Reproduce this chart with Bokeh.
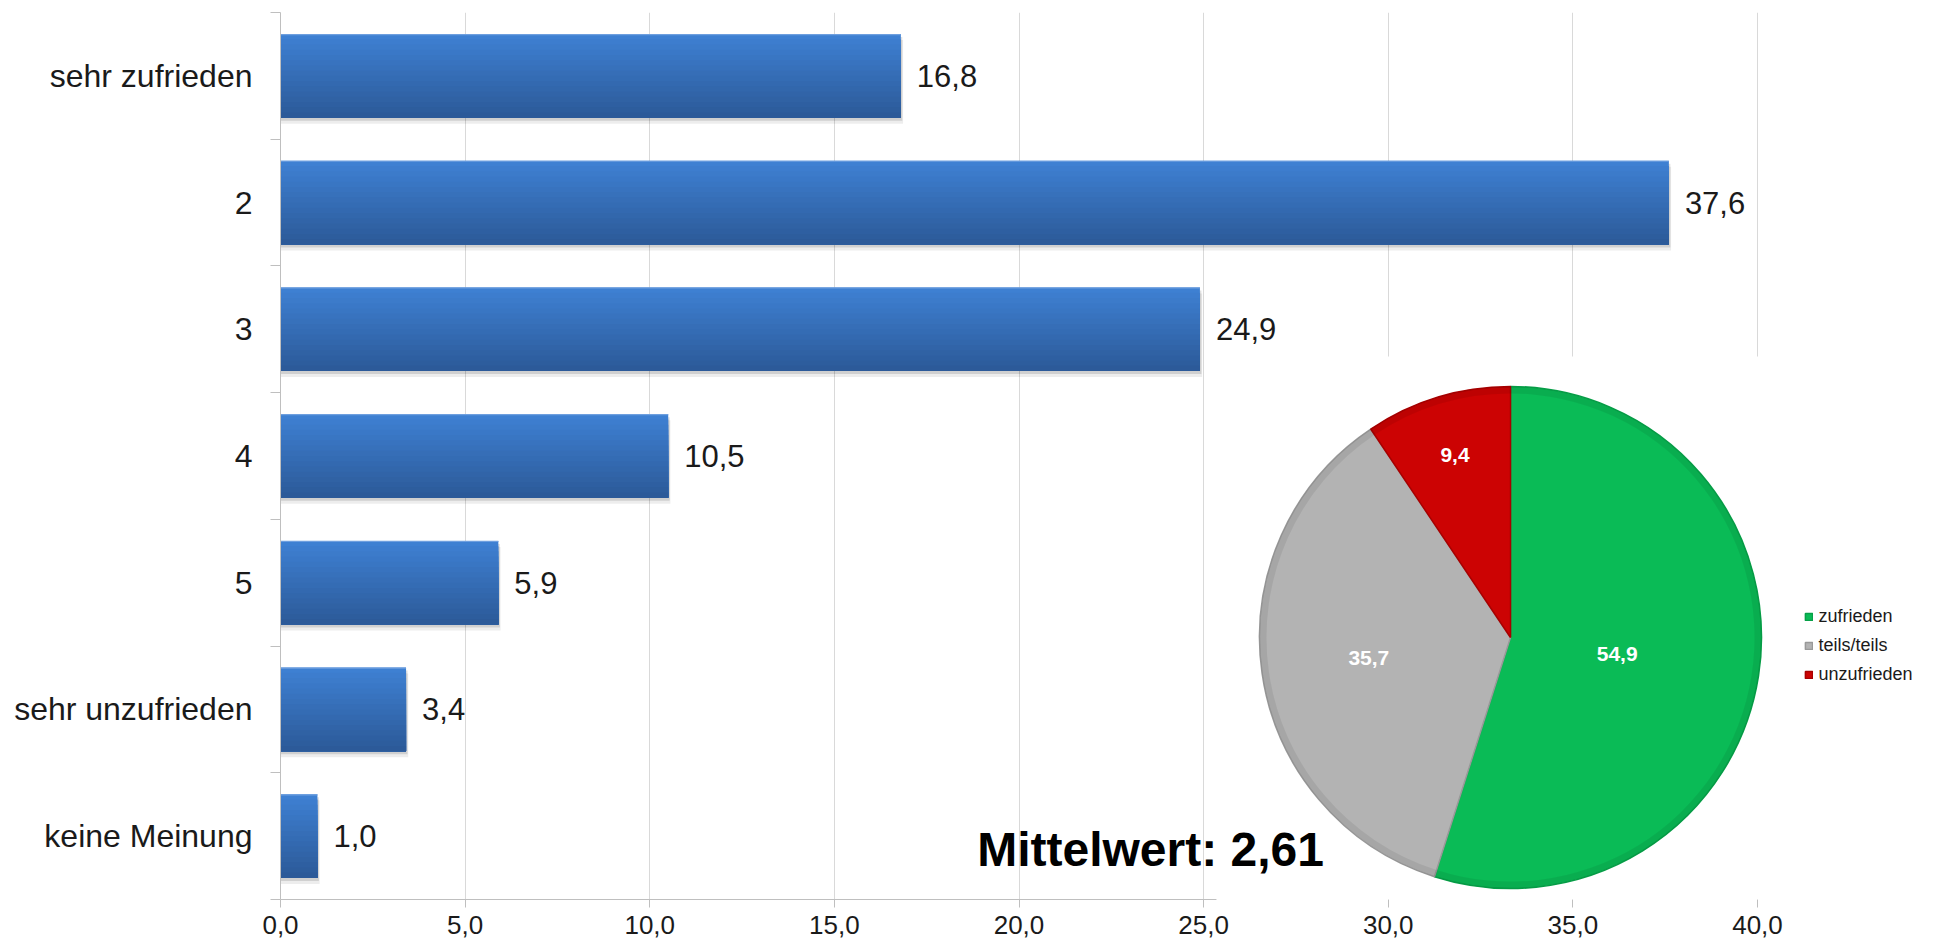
import math
from bokeh.plotting import figure
from bokeh.models import (ColumnDataSource, Range1d, FixedTicker, BoxAnnotation, LinearAxis,
                          Label, Legend, LegendItem)
from bokeh.transform import dodge
from bokeh.core.properties import value
from bokeh.embed import file_html
from bokeh.resources import INLINE

# ---------------- data ----------------
categories = ["sehr zufrieden", "2", "3", "4", "5", "sehr unzufrieden", "keine Meinung"]
percent = [16.8, 37.6, 24.9, 10.5, 5.9, 3.4, 1.0]
x_tick_values = [0, 5, 10, 15, 20, 25, 30, 35, 40]
x_tick_labels = ["0,0", "5,0", "10,0", "15,0", "20,0", "25,0", "30,0", "35,0", "40,0"]

pie_groups = ["zufrieden", "teils/teils", "unzufrieden"]
pie_values = [54.9, 35.7, 9.4]
pie_colors = ["#0ABB56", "#B3B3B3", "#CC0303"]
pie_edges = ["#07A048", "#999999", "#A80000"]
mean_text = "Mittelwert: 2,61"

# ---------------- layout ----------------
FONT = "Liberation Sans"
W, H = 1935, 946
B_L, B_R, B_T, B_B = 280, 0, 12, 47
PX_X = 36.925
X_END = (W - B_L - B_R) / PX_X
n = len(categories)
PX_Y = (H - B_T - B_B) / n
BAR_H = 0.66


def rx(px):  # page x pixel -> data
    return (px - B_L) / PX_X


def ry(py):  # page y pixel -> data
    return (n - 0.5) - (py - B_T) / PX_Y


def fmt(v, d=1):
    return f"{v:.{d}f}".replace(".", ",")


p = figure(width=W, height=H, x_range=Range1d(0, X_END), y_range=Range1d(-0.5, n - 0.5),
           output_backend="svg", toolbar_location=None,
           min_border_left=B_L, min_border_right=B_R, min_border_top=B_T, min_border_bottom=B_B,
           outline_line_color=None, background_fill_color="white", border_fill_color="white")

# x axis: line + ticks only up to the pie panel (labels come from a second axis)
xa = p.xaxis[0]
xa.ticker = FixedTicker(ticks=x_tick_values)
xa.bounds = (0, rx(1216))
xa.axis_line_color = "#BFBFBF"
xa.major_tick_line_color = "#BFBFBF"
xa.major_tick_out = 8
xa.major_tick_in = 0
xa.minor_tick_line_color = None
xa.minor_tick_out = 0
xa.major_label_standoff = 0
xa.major_label_text_font_size = "1px"
xa.major_label_text_color = None

# x axis: labels
xb = LinearAxis(ticker=FixedTicker(ticks=x_tick_values),
                major_label_overrides=dict(zip(x_tick_values, x_tick_labels)),
                axis_line_color=None, major_tick_line_color=None, minor_tick_line_color=None,
                major_tick_out=0, major_tick_in=0, minor_tick_out=0, minor_tick_in=0,
                major_label_standoff=8, major_label_text_font=FONT,
                major_label_text_font_size="26px", major_label_text_color="#1a1a1a")
p.add_layout(xb, "below")

# y axis (categories)
ys = [n - 1 - i for i in range(n)]
ya = p.yaxis[0]
ya.ticker = FixedTicker(ticks=ys, minor_ticks=[k - 0.5 for k in range(n + 1)])
ya.major_label_overrides = dict(zip(ys, categories))
ya.axis_line_color = "#BFBFBF"
ya.major_tick_line_color = None
ya.major_tick_out = 0
ya.major_tick_in = 0
ya.minor_tick_line_color = "#BFBFBF"
ya.minor_tick_out = 10
ya.minor_tick_in = 0
ya.major_label_standoff = 18
ya.major_label_text_font = FONT
ya.major_label_text_font_size = "32px"
ya.major_label_text_color = "#1a1a1a"

p.xgrid.ticker = FixedTicker(ticks=x_tick_values)
p.xgrid.grid_line_color = "#D9D9D9"
p.ygrid.grid_line_color = None

# ---------------- bars ----------------
src = ColumnDataSource(dict(y=ys, value=percent, label=[fmt(v) for v in percent], cat=categories))

p.hbar(y=dodge("y", -6 / PX_Y), left=0, right=dodge("value", 0.06), height=BAR_H,
       fill_color="#000000", fill_alpha=0.07, line_color=None, source=src)
p.hbar(y=dodge("y", -3 / PX_Y), left=0, right=dodge("value", 0.04), height=BAR_H,
       fill_color="#000000", fill_alpha=0.12, line_color=None, source=src)

TOP = (62, 128, 210)
BOT = (44, 90, 153)
NB = 16
for k in range(NB):
    t = k / (NB - 1)
    c = tuple(round(TOP[j] + (BOT[j] - TOP[j]) * t) for j in range(3))
    top = BAR_H / 2 - k * BAR_H / NB
    bottom = -BAR_H / 2
    p.hbar(y=dodge("y", (top + bottom) / 2), left=0, right="value", height=top - bottom,
           fill_color="#%02x%02x%02x" % c, line_color=None, source=src)
p.hbar(y=dodge("y", BAR_H / 2 - 0.5 / PX_Y), left=0, right="value", height=1.2 / PX_Y,
       fill_color="#6E9FDF", line_color=None, source=src)

p.text(x="value", y="y", text="label", x_offset=16, text_align="left", text_baseline="middle",
       text_font=value(FONT), text_font_size="31px", text_color="#1a1a1a", source=src)

# ---------------- white panel behind pie ----------------
box = BoxAnnotation(left=rx(1216), right=X_END, top=ry(356), bottom=-0.5,
                    fill_color="white", fill_alpha=1.0, line_color=None)
p.add_layout(box)

# ---------------- pie ----------------
PIE_X, PIE_Y, PIE_R = rx(1510), ry(637), 251
total = sum(pie_values)
starts, ends, dxs, dys = [], [], [], []
label_frac = [0.43, 0.57, 0.76]
cum = 0.0
for i, v in enumerate(pie_values):
    a0 = math.pi / 2 - 2 * math.pi * cum / total
    cum += v
    a1 = math.pi / 2 - 2 * math.pi * cum / total
    starts.append(a0)
    ends.append(a1)
    mid = (a0 + a1) / 2
    r = label_frac[i] * PIE_R
    dxs.append(r * math.cos(mid))
    dys.append(-r * math.sin(mid))

pie_src = ColumnDataSource(dict(group=pie_groups, value=pie_values, start=starts, end=ends,
                                color=pie_colors, edge=pie_edges,
                                label=[fmt(v) for v in pie_values], dx=dxs, dy=dys))

wr = p.wedge(x=PIE_X, y=PIE_Y, radius=PIE_R, radius_units="screen", start_angle="start",
             end_angle="end", direction="clock", fill_color="color", line_color="edge",
             line_width=1.5, source=pie_src, level="overlay")
p.annular_wedge(x=PIE_X, y=PIE_Y, inner_radius=PIE_R - 7, outer_radius=PIE_R,
                inner_radius_units="screen", outer_radius_units="screen",
                start_angle="start", end_angle="end", direction="clock",
                fill_color="#000000", fill_alpha=0.07, line_color=None, source=pie_src, level="overlay")
p.text(x=PIE_X, y=PIE_Y, x_offset="dx", y_offset="dy", text="label", text_align="center",
       text_baseline="middle", text_font=value(FONT), text_font_style="bold", text_font_size="21px",
       text_color="white", source=pie_src, level="overlay")

legend = Legend(items=[LegendItem(label=g, renderers=[wr], index=i) for i, g in enumerate(pie_groups)],
                location=(1803.5 - B_L, (H - B_B) - 685),
                glyph_width=9, glyph_height=9, label_standoff=6, spacing=8, label_height=21,
                label_text_font=FONT, label_text_font_size="18px", label_text_color="#1a1a1a",
                padding=0, margin=0, border_line_color=None, background_fill_alpha=0)
p.add_layout(legend)

p.add_layout(Label(x=rx(976.7), y=ry(849), text=mean_text, text_font=FONT, text_font_style="bold",
                   text_font_size="48px", text_color="#000000", text_baseline="alphabetic"))

open("out.html", "w").write(file_html(p, INLINE))
